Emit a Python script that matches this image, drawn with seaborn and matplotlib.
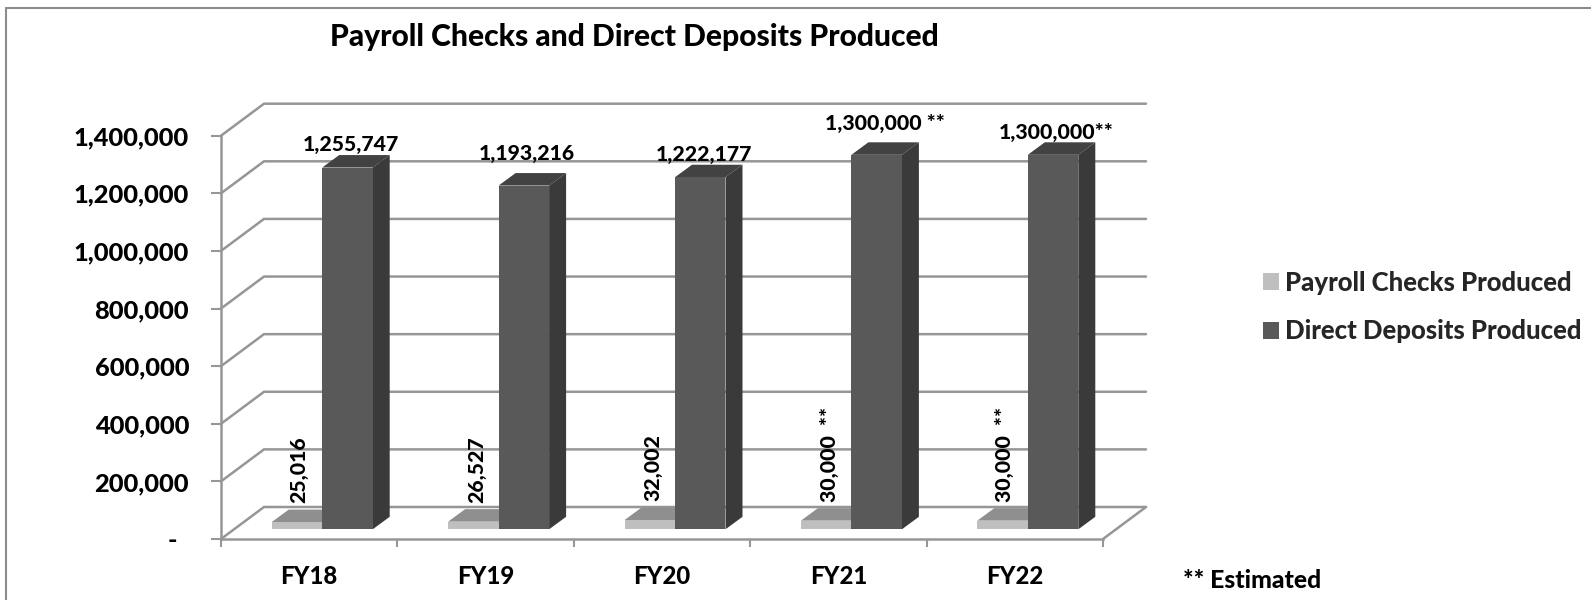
import matplotlib
matplotlib.use("Agg")
import matplotlib.pyplot as plt
import seaborn as sns
import pandas as pd
from matplotlib.lines import Line2D
from matplotlib.patches import Polygon

categories = ["FY18", "FY19", "FY20", "FY21", "FY22"]
payroll_checks = [25016, 26527, 32002, 30000, 30000]
direct_deposits = [1255747, 1193216, 1222177, 1300000, 1300000]
payroll_labels = ["25,016", "26,527", "32,002", "30,000  **", "30,000  **"]
deposit_labels = ["1,255,747", "1,193,216", "1,222,177", "1,300,000 **", "1,300,000**"]
y_ticks = [0, 200000, 400000, 600000, 800000, 1000000, 1200000, 1400000]
y_tick_labels = ["-  ", "200,000", "400,000", "600,000", "800,000", "1,000,000", "1,200,000", "1,400,000"]
series_names = ["Payroll Checks Produced", "Direct Deposits Produced"]

# label offsets from bar tops, pixels
deposit_offsets = [(3, 23), (3.5, 32), (3.5, 22.5), (8, 31.3), (3, 22.3)]
payroll_offsets = [(2, 19), (3, 19), (3.5, 19), (3, 18.5), (2, 18.5)]

W, H = 1591, 600
GRID = "#969696"
FONT = "Lato"
WEIGHT = 900

sns.set_theme(style="white")
plt.rcParams["font.family"] = [FONT, "DejaVu Sans"]
plt.rcParams["font.weight"] = WEIGHT

fig = plt.figure(figsize=(W / 100, H / 100), dpi=100, facecolor="white")


def px_axes(left, base, width, height):
    return fig.add_axes([left / W, 1 - base / H, width / W, height / H])


PLOT_W, PLOT_H = 882.0, 403.3
ax_front = px_axes(221, 539, PLOT_W, PLOT_H)
ax_bar = px_axes(221 + 13, 539 - 9.7, PLOT_W, PLOT_H)
ymax = y_ticks[-1]
for a in (ax_front, ax_bar):
    a.set_xlim(-0.5, 4.5)
    a.set_ylim(0, ymax)

ux = 5.0 / PLOT_W      # category units per px
uy = ymax / PLOT_H     # value units per px

# walls, floor, axis
ax_front.set_facecolor("none")
ax_front.set_xticks([i - 0.5 for i in range(6)])
ax_front.set_xticklabels([])
ax_front.set_yticks(y_ticks)
ax_front.set_yticklabels(y_tick_labels, fontsize=18.3, fontweight=WEIGHT, color="black")
ax_front.tick_params(axis="y", length=7, width=1.5, color=GRID, pad=16, left=True)
ax_front.tick_params(axis="x", length=6, width=1.5, color=GRID, bottom=True)
for i, cat in enumerate(categories):
    ax_front.annotate(cat, (i, 0), xytext=(0, -38 * 0.72), textcoords="offset points",
                      ha="center", va="center", fontsize=17.2, fontweight=WEIGHT, color="black")
for s in ("top", "right"):
    ax_front.spines[s].set_visible(False)
for s in ("left", "bottom"):
    ax_front.spines[s].set_color(GRID)
    ax_front.spines[s].set_linewidth(1.8)

dx_wall, dy_wall = 43 * ux, 32 * uy
for v in y_ticks:
    ax_front.plot([-0.5, -0.5 + dx_wall, 4.5 + dx_wall], [v, v + dy_wall, v + dy_wall],
                  color=GRID, lw=1.8, clip_on=False, solid_joinstyle="miter")
ax_front.plot([4.5, 4.5 + dx_wall], [0, dy_wall], color=GRID, lw=1.8, clip_on=False)

# bars
df = pd.DataFrame({
    "category": categories * 2,
    "series": [series_names[0]] * 5 + [series_names[1]] * 5,
    "value": payroll_checks + direct_deposits,
})
sns.barplot(data=df, x="category", y="value", hue="series", hue_order=series_names,
            palette=["#bfbfbf", "#595959"], width=0.5725, gap=0, saturation=1,
            ax=ax_bar, edgecolor="none", linewidth=0)
ax_bar.patch.set_visible(False)
ax_bar.set_xlim(-0.5, 4.5)
ax_bar.set_ylim(0, ymax)
ax_bar.set_axis_off()

handles, labels = ax_bar.get_legend_handles_labels()
ax_bar.get_legend().remove()

# 3-D faces around the seaborn bars
dx_bar, dy_bar = 17 * ux, 12.5 * uy
top_colors = ["#8f8f8f", "#424242"]
side_colors = ["#808080", "#3a3a3a"]
for c_i, container in enumerate(ax_bar.containers):
    for b in container:
        b.set_zorder(3)
        x0, x1, h = b.get_x(), b.get_x() + b.get_width(), b.get_height()
        ax_bar.add_patch(Polygon([(x0, h), (x0 + dx_bar, h + dy_bar), (x1 + dx_bar, h + dy_bar), (x1, h)],
                                 closed=True, fc=top_colors[c_i], ec="none", clip_on=False, zorder=2))
        ax_bar.add_patch(Polygon([(x1, 0), (x1 + dx_bar, dy_bar), (x1 + dx_bar, h + dy_bar), (x1, h)],
                                 closed=True, fc=side_colors[c_i], ec="none", clip_on=False, zorder=2))

# data labels
payroll_bars, deposit_bars = ax_bar.containers[0], ax_bar.containers[1]
for b, txt, (ox, oy) in zip(deposit_bars, deposit_labels, deposit_offsets):
    ax_bar.annotate(txt, (b.get_x() + b.get_width() / 2, b.get_height()),
                    xytext=(ox * 0.72, oy * 0.72), textcoords="offset points",
                    ha="center", va="center", fontsize=15.3, fontweight=WEIGHT,
                    color="black", annotation_clip=False, zorder=5)
for b, txt, (ox, oy) in zip(payroll_bars, payroll_labels, payroll_offsets):
    ax_bar.annotate(txt, (b.get_x() + b.get_width() / 2, b.get_height()),
                    xytext=(ox * 0.72, oy * 0.72), textcoords="offset points",
                    ha="center", va="bottom", rotation=90, fontsize=15.3, fontweight=WEIGHT,
                    color="black", annotation_clip=False, zorder=5)

# title, legend, footnote
fig.text(634 / W, 1 - 37 / H, "Payroll Checks and Direct Deposits Produced",
         ha="center", va="center", fontsize=21.6, fontweight=WEIGHT, color="black")
fig.text(1183 / W, 1 - 581 / H, "** Estimated", ha="left", va="center",
         fontsize=17.8, fontweight=WEIGHT, color="black")
fig.legend(handles, labels, loc="center left", bbox_to_anchor=(1263 / W, 1 - 307 / H),
           frameon=False, handlelength=0.62, handleheight=0.62,
           handletextpad=0.25, labelspacing=0.97, borderpad=0, borderaxespad=0,
           prop={"family": FONT, "weight": WEIGHT, "size": 18.5})

# chart frame
frame = "#8c8c8c"
fig.add_artist(Line2D([6 / W, 6 / W], [0, 1 - 8 / H], color=frame, lw=1.5))
fig.add_artist(Line2D([6 / W, 1], [1 - 8 / H, 1 - 8 / H], color=frame, lw=1.5))

fig.savefig("out.png", dpi=100, facecolor="white")
